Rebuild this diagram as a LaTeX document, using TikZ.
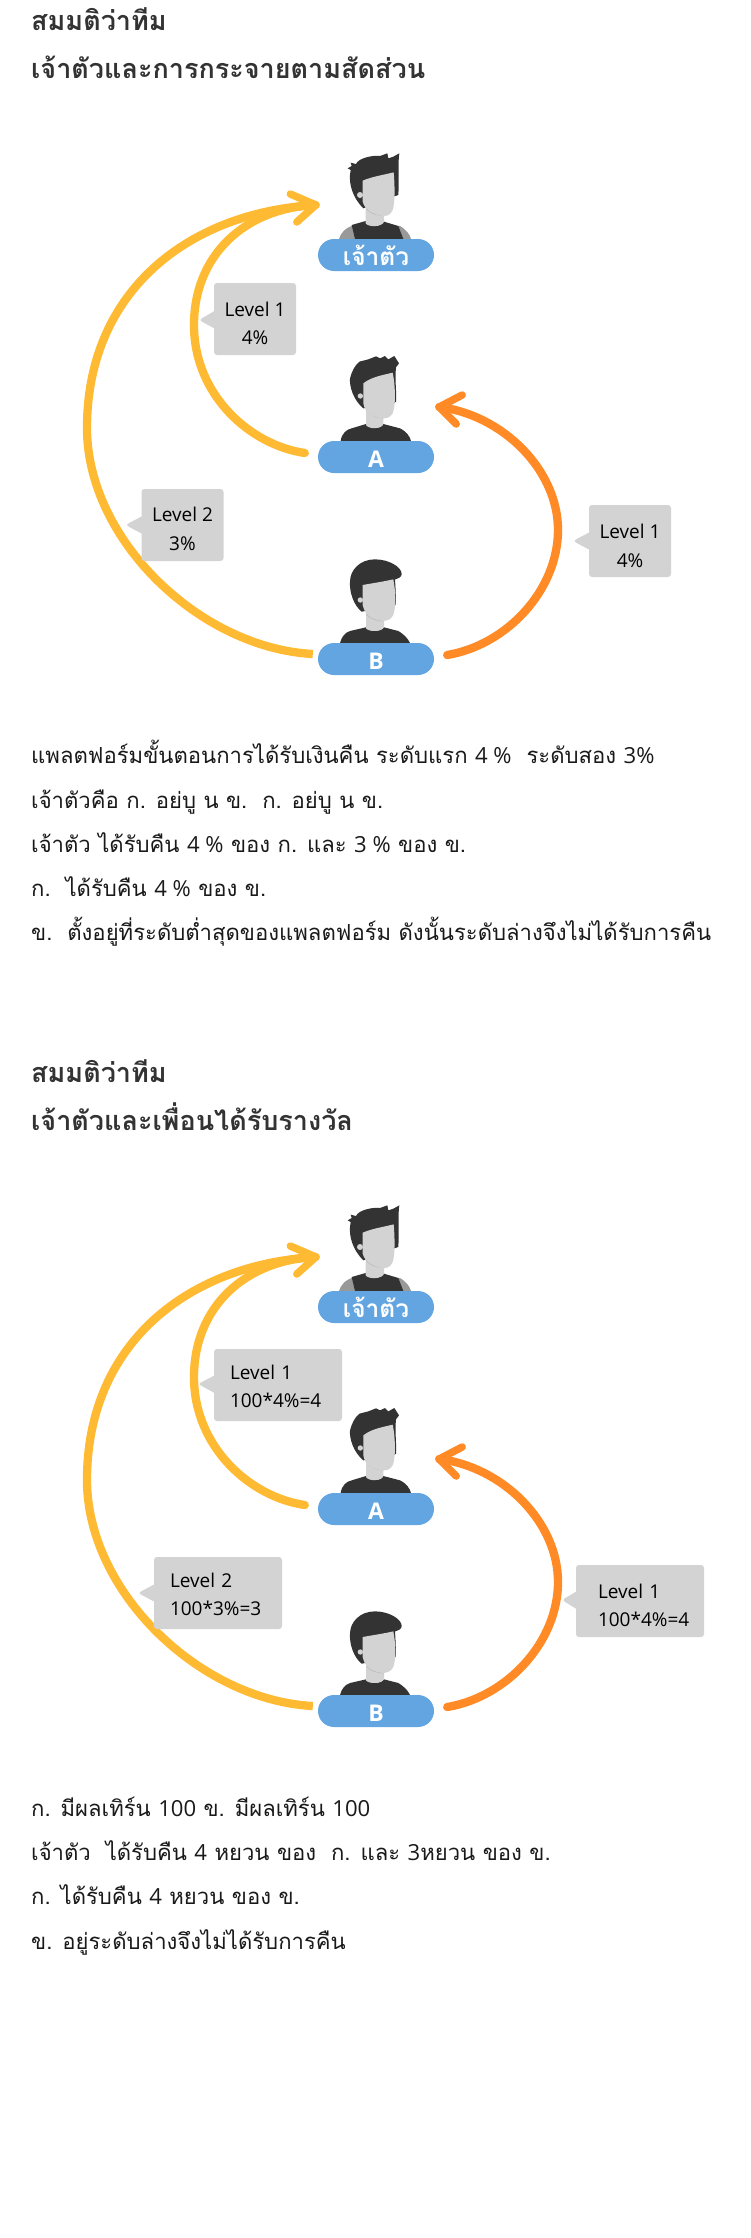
\documentclass[tikz,border=0pt]{standalone}
\usepackage{fontspec}
\setmainfont{Open Sans}
\newfontfamily\thaifont[Script=Thai]{Loma}
\usetikzlibrary{shapes.callouts, positioning}
\definecolor{myellow}{HTML}{FFBA33}
\definecolor{morange}{HTML}{FF8A26}
\definecolor{mblue}{HTML}{62A5E1}
\definecolor{mgray}{HTML}{D3D3D3}
\definecolor{mhair}{HTML}{333333}
\definecolor{mshadow}{HTML}{B0B0B0}
\definecolor{msleeve}{HTML}{999999}
\newcommand{\latn}[1]{{\rmfamily #1}}
\newcommand{\lift}[1]{\rule{0pt}{#1pt}}
\tikzstyle{pill} = [rectangle, rounded corners=16pt, minimum width=116pt, minimum height=32pt, inner sep=0pt, fill=mblue, text=white, font=\fontsize{23}{26}\selectfont\bfseries]
\tikzstyle{bubble} = [rectangle callout, rounded corners=3pt, fill=mgray, inner sep=0pt, minimum height=72pt, callout pointer width=17pt, align=center, text=black, font=\fontsize{19}{28.5}\selectfont]
\tikzstyle{wordy} = [bubble, minimum width=128pt, align=left, inner xsep=16pt, text width=96pt]
\tikzstyle{headline} = [anchor=base west, inner sep=0pt, text=mhair, font=\fontsize{27}{30}\selectfont\thaifont\bfseries]
\tikzstyle{bodyline} = [anchor=base west, inner sep=0pt, text=black!90, font=\fontsize{22.1}{30}\selectfont\thaifont]
\tikzstyle{cable} = [line width=8.3pt, line cap=round, color=myellow]
\tikzstyle{barb} = [line width=7.5pt, line cap=round, line join=round]
\tikzset{
  bosshead/.pic={
    \begin{scope}[scale=1/3, shift={(-228,-297)}]
      \fill [msleeve] (117,297) .. controls (122,280) and (135,262) .. (165,255) -- (300,258) .. controls (320,270) and (330,285) .. (333,297) -- cycle;
      \fill [mhair] (155,255) -- (197,243) .. controls (205,262) and (245,262) .. (252,245) -- (295,258) -- (310,297) -- (165,297) -- cycle;
      \fill [mgray] (197,205) -- (197,250) .. controls (205,262) and (245,262) .. (252,245) -- (252,215) -- cycle;
      \fill [mshadow] (197,205) .. controls (210,222) and (235,228) .. (252,228) -- (252,215) -- (215,205) -- cycle;
      \fill [mhair] (143,85) -- (155,78) -- (152,68) -- (168,72) .. controls (175,55) and (215,45) .. (240,48) -- (262,40) -- (265,55) -- (280,50) -- (298,40) .. controls (293,70) and (298,120) .. (295,165) -- (280,170) -- (190,205) .. controls (155,170) and (148,130) .. (150,105) -- (152,90) -- cycle;
      \fill [mgray] (188,122) .. controls (215,110) and (250,105) .. (281,97) .. controls (285,140) and (285,190) .. (278,210) .. controls (272,228) and (255,230) .. (240,227) .. controls (215,220) and (195,210) .. (188,185) -- cycle;
      \fill [mgray] (180,165) circle (9);
    \end{scope}
  },
  ahead/.pic={
    \begin{scope}[scale=1/3, shift={(-228,-273)}]
      \fill [mhair] (122,273) .. controls (125,250) and (140,238) .. (155,235) -- (198,222) .. controls (205,238) and (245,238) .. (250,222) -- (300,235) .. controls (320,245) and (330,260) .. (333,273) -- cycle;
      \fill [mgray] (198,180) -- (198,225) .. controls (205,238) and (245,238) .. (250,222) -- (250,195) -- cycle;
      \fill [mshadow] (198,180) .. controls (210,198) and (235,205) .. (250,205) -- (250,195) -- (215,180) -- cycle;
      \fill [mhair] (150,85) .. controls (155,65) and (165,45) .. (178,35) -- (205,28) -- (228,19) -- (240,25) -- (255,18) -- (265,28) -- (283,18) -- (297,40) -- (288,52) .. controls (284,90) and (290,120) .. (288,155) -- (280,160) -- (190,175) .. controls (160,150) and (148,110) .. (150,85) -- cycle;
      \fill [mgray] (190,100) .. controls (215,80) and (250,75) .. (278,68) .. controls (287,110) and (287,170) .. (278,190) .. controls (270,205) and (255,207) .. (240,204) .. controls (215,198) and (195,190) .. (190,160) -- cycle;
      \fill [mgray] (181,138) circle (8);
    \end{scope}
  },
  bhead/.pic={
    \begin{scope}[scale=1/3, shift={(-228,-279)}]
      \fill [mhair] (120,279) .. controls (125,260) and (135,248) .. (150,243) -- (198,232) .. controls (205,246) and (245,246) .. (252,232) -- (295,243) .. controls (315,255) and (325,268) .. (330,279) -- cycle;
      \fill [mgray] (198,190) -- (198,235) .. controls (205,246) and (245,246) .. (252,232) -- (252,205) -- cycle;
      \fill [mshadow] (198,192) .. controls (210,208) and (235,214) .. (252,214) -- (252,205) -- (215,190) -- cycle;
      \fill [mhair] (150,95) .. controls (150,60) and (180,28) .. (225,28) .. controls (265,28) and (305,50) .. (305,72) .. controls (305,82) and (295,85) .. (285,88) .. controls (287,120) and (288,140) .. (287,165) -- (185,185) .. controls (160,165) and (148,125) .. (150,95) -- cycle;
      \fill [mgray] (188,105) .. controls (215,100) and (250,95) .. (280,88) .. controls (288,130) and (288,170) .. (280,195) .. controls (272,212) and (255,214) .. (240,212) .. controls (215,207) and (195,197) .. (188,165) -- cycle;
      \fill [mgray] (181,150) circle (8);
    \end{scope}
  }
}
% one team: three people, their name pills and the three arrows
\newcommand{\teamrow}[2]{
  \begin{scope}[shift={(0,#2)}]
    \pic at (376,239) {bosshead};
    \pic at (376,441) {ahead};
    \pic at (376,643) {bhead};
    \node (#1boss) [pill] at (376,255) {\thaifont\fontsize{24.5}{26}\selectfont เจ้าตัว};
    \node (#1a) [pill] at (376,457) {\lift{20}A};
    \node (#1b) [pill] at (376,659) {\lift{20}B};
    \coordinate (#1tipy) at ([xshift=-2pt,yshift=50pt]#1boss.west);
    \coordinate (#1tipo) at ([xshift=5pt,yshift=50pt]#1a.east);
    \draw [cable, line cap=butt] ([xshift=-5pt,yshift=5pt]#1b.west) .. controls (200,648) and (87,540) .. (87,428) .. controls (87,290) and (190,212) .. (#1tipy);
    \draw [cable] ([xshift=-13pt,yshift=4pt]#1a.west) .. controls (250,445) and (194,395) .. (194,325) .. controls (194,255) and (245,208) .. (#1tipy);
    \draw [barb, myellow] ([xshift=-25.5pt,yshift=11pt]#1tipy) -- (#1tipy) -- ([xshift=-19pt,yshift=-17pt]#1tipy);
    \draw [cable, morange] ([xshift=13pt,yshift=4pt]#1b.east) .. controls (507,645) and (558,590) .. (558,530) .. controls (558,470) and (503,415) .. (#1tipo);
    \draw [barb, morange] ([xshift=23pt,yshift=12pt]#1tipo) -- (#1tipo) -- ([xshift=17pt,yshift=-17pt]#1tipo);
  \end{scope}
}
\begin{document}
\begin{tikzpicture}[x=1pt, y=-1pt]
  \useasboundingbox (0,0) rectangle (750,2238);
  % first team
  \node (title1) [headline] at (31,30) {สมมติว่าทีม};
  \node (title2) [headline] at (31,78) {เจ้าตัวและการกระจายตามสัดส่วน};
  \teamrow{u}{0}
  \node (ubub1) [bubble, minimum width=82pt, callout absolute pointer={(199,320)}] at (255,319) {\lift{23}Level 1\\4\%};
  \node (ubub2) [bubble, minimum width=82pt, callout absolute pointer={(125.5,525)}] at (182.5,525) {\lift{22}Level 2\\3\%};
  \node (ubub3) [bubble, minimum width=82pt, callout absolute pointer={(573,541)}] at (630,541) {\lift{24}Level 1\\4\%};
  \node (line1) [bodyline] at (31,763) {แพลตฟอร์มขั้นตอนการได้รับเงินคืน ระดับแรก \latn{4 \%}\ \ ระดับสอง \latn{3\%}};
  \node (line2) [bodyline] at (31,808) {เจ้าตัวคือ ก. อย่บู น ข.\ \ ก. อย่บู น ข.};
  \node (line3) [bodyline] at (31,852) {เจ้าตัว ได้รับคืน \latn{4 \%} ของ ก. และ \latn{3 \%} ของ ข.};
  \node (line4) [bodyline] at (31,896) {ก.\ \ ได้รับคืน \latn{4 \%} ของ ข.};
  \node (line5) [bodyline] at (31,940) {ข.\ \ ตั้งอยู่ที่ระดับต่ำสุดของแพลตฟอร์ม ดังนั้นระดับล่างจึงไม่ได้รับการคืน};
  % second team
  \node (title3) [headline] at (31,1082) {สมมติว่าทีม};
  \node (title4) [headline] at (31,1130) {เจ้าตัวและเพื่อนได้รับรางวัล};
  \teamrow{v}{1052}
  \node (vbub1) [wordy, callout absolute pointer={(198,1384)}] at (278,1385) {\lift{17}Level 1\\100*4\%=4};
  \node (vbub2) [wordy, callout absolute pointer={(138,1593)}] at (218,1593) {\lift{17}Level 2\\100*3\%=3};
  \node (vbub3) [wordy, inner xsep=22pt, text width=84pt, callout absolute pointer={(562,1600)}] at (640,1601) {\lift{23}Level 1\\100*4\%=4};
  \node (line6) [bodyline] at (31,1816) {ก. มีผลเทิร์น \latn{100} ข. มีผลเทิร์น \latn{100}};
  \node (line7) [bodyline] at (31,1860) {เจ้าตัว\ \ ได้รับคืน \latn{4} หยวน ของ\ \ ก. และ \latn{3}หยวน ของ ข.};
  \node (line8) [bodyline] at (31,1904) {ก. ได้รับคืน \latn{4} หยวน ของ ข.};
  \node (line9) [bodyline] at (31,1949) {ข. อยู่ระดับล่างจึงไม่ได้รับการคืน};
\end{tikzpicture}
\end{document}
